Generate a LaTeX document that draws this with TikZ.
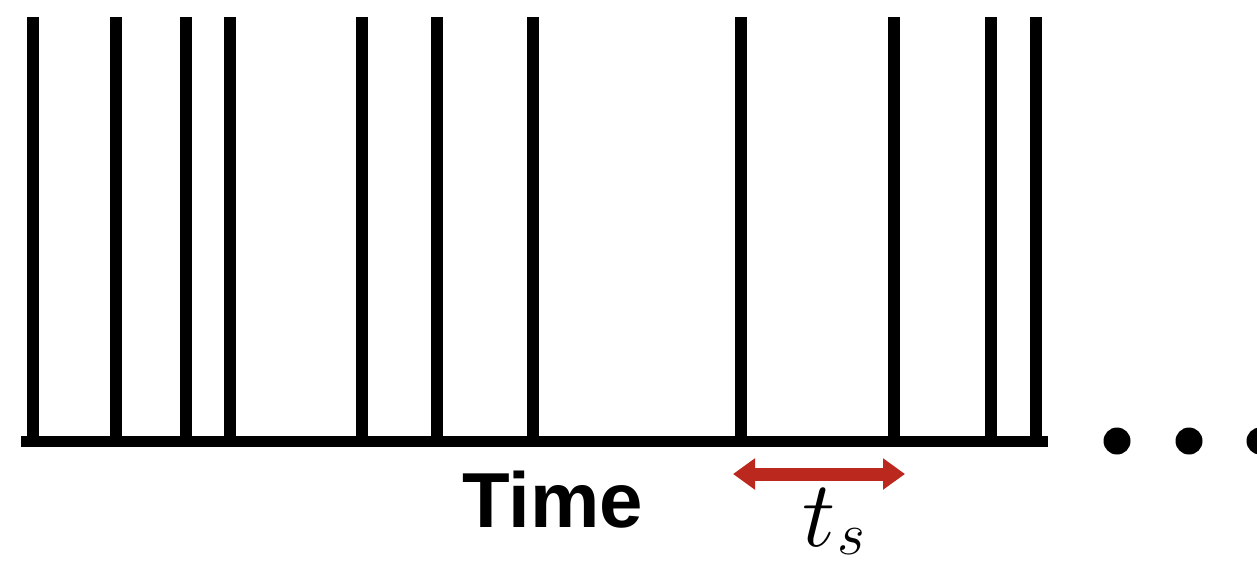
\documentclass[tikz,border=0pt]{standalone}
\usepackage{fix-cm}
\usepackage{fontspec}
\setmainfont{Liberation Sans}
\usetikzlibrary{arrows.meta}
\definecolor{tsred}{RGB}{187,40,30}
\DeclareMathSizes{94}{94}{60}{45}

\begin{document}
\begin{tikzpicture}[x=1pt, y=-1pt,
  spike/.style={line width=12pt, line cap=butt},
  axisline/.style={line width=11pt, line cap=butt},
  tsarrow/.style={{Triangle[length=22pt, width=30pt]}-{Triangle[length=22pt, width=30pt]}, line width=13pt, tsred},
  dotmark/.style={fill=black},
  axislabel/.style={font=\fontsize{78}{80}\selectfont\bfseries, inner sep=0pt, anchor=base}
]
\useasboundingbox (0,0) rectangle (1257,563);
\clip (0,0) rectangle (1257,563);

% spike train
\foreach \t in {33,116,186,230,362,437,533,741,894,991,1036}
  \draw[spike] (\t,17) -- (\t,441.5);
\coordinate (axL) at (21,441.5);
\coordinate (axR) at (1048,441.5);
\draw[axisline] (axL) -- (axR);

% continuation dots
\foreach \d in {1117,1189,1260}
  \fill[dotmark] (\d,441) circle (13.5);

\node[axislabel] (time) at (553,527) {Time};

% interval between spikes
\coordinate (tsL) at (733,474);
\coordinate (tsR) at (905,474);
\draw[tsarrow] (tsL) -- (tsR);
\node[inner sep=0pt, anchor=base west, font=\fontsize{94}{96}\selectfont] (ts) at (802,546) {$t_{\kern2pt\raisebox{6pt}{$\scriptstyle s$}}$};
\end{tikzpicture}
\end{document}
